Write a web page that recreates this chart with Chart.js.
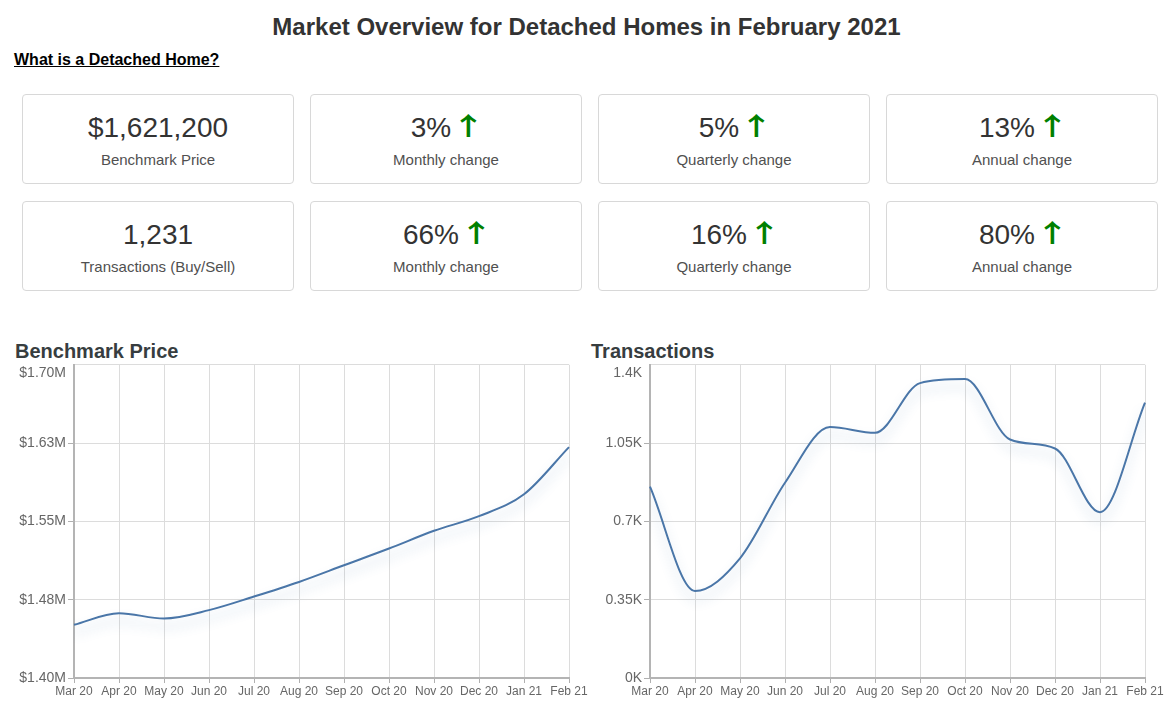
<!DOCTYPE html>
<html>
<head>
<meta charset="utf-8">
<script src="https://cdn.jsdelivr.net/npm/chart.js@4.4.1/dist/chart.umd.min.js"></script>
<style>
  html, body { margin:0; padding:0; background:#fff; }
  body { width:1173px; height:721px; position:relative; overflow:hidden; font-family:"Liberation Sans", Arial, sans-serif; }
  .title { position:absolute; left:0; width:1173px; top:12px; text-align:center; font-size:24px; font-weight:bold; color:#333; line-height:30px; }
  .link { position:absolute; left:14px; top:50px; font-size:16px; font-weight:bold; color:#000; text-decoration:underline; line-height:20px; }
  .card { position:absolute; box-sizing:border-box; width:272px; height:90px; border:1px solid #d8d8d8; border-radius:4px; text-align:center; }
  .card .num { position:absolute; left:0; right:0; top:17px; font-size:28px; line-height:32px; color:#333; white-space:nowrap; }
  .card .num .arr { display:inline-block; line-height:0; font-family:"Noto Sans CJK SC", "DejaVu Sans", sans-serif; color:#008000; font-size:25px; font-weight:bold; margin-left:5px; transform:scaleX(1.35); position:relative; top:-2px; }
  .card .lbl { position:absolute; left:0; right:0; top:56px; font-size:15px; line-height:18px; color:#505050; }
  .ctitle { position:absolute; top:338px; font-size:20px; font-weight:bold; color:#373d3f; line-height:26px; }
  .cwrap { position:absolute; top:346px; height:362px; }
</style>
</head>
<body>
<div class="title">Market Overview for Detached Homes in February 2021</div>
<div class="link">What is a Detached Home?</div>
<div id="cards"></div>
<div class="ctitle" style="left:15px;">Benchmark Price</div>
<div class="ctitle" style="left:591px;">Transactions</div>
<div class="cwrap" style="left:0px; width:590px;"><canvas id="priceChart"></canvas></div>
<div class="cwrap" style="left:580px; width:586px;"><canvas id="txChart"></canvas></div>
<script>
// ---- data ----
const months = ['Mar 20','Apr 20','May 20','Jun 20','Jul 20','Aug 20','Sep 20','Oct 20','Nov 20','Dec 20','Jan 21','Feb 21'];
const benchmarkPrice = [1451000, 1462000, 1457000, 1465000, 1478000, 1492000, 1508000, 1524000, 1541000, 1555000, 1576000, 1621200];
const transactions = [855, 389, 535, 873, 1122, 1096, 1318, 1336, 1066, 1026, 741, 1231];

const priceTicks = [1400000, 1475000, 1550000, 1625000, 1700000];
const priceTickLabels = ['$1.40M', '$1.48M', '$1.55M', '$1.63M', '$1.70M'];
const txTicks = [0, 350, 700, 1050, 1400];
const txTickLabels = ['0K', '0.35K', '0.7K', '1.05K', '1.4K'];

const cardValues = ['$1,621,200', '3%', '5%', '13%', '1,231', '66%', '16%', '80%'];
const cardLabels = ['Benchmark Price', 'Monthly change', 'Quarterly change', 'Annual change',
                    'Transactions (Buy/Sell)', 'Monthly change', 'Quarterly change', 'Annual change'];
const cardUp = [false, true, true, true, false, true, true, true];

// ---- cards ----
const cardsEl = document.getElementById('cards');
const colX = [22, 310, 598, 886];
const rowY = [94, 201];
cardValues.forEach((v, i) => {
  const d = document.createElement('div');
  d.className = 'card';
  d.style.left = colX[i % 4] + 'px';
  d.style.top = rowY[Math.floor(i / 4)] + 'px';
  const n = document.createElement('div');
  n.className = 'num';
  n.textContent = v;
  if (cardUp[i]) {
    const a = document.createElement('span');
    a.className = 'arr';
    a.textContent = '↑';
    n.appendChild(a);
  }
  const l = document.createElement('div');
  l.className = 'lbl';
  l.textContent = cardLabels[i];
  d.appendChild(n); d.appendChild(l);
  cardsEl.appendChild(d);
});

// ---- charts ----
Chart.defaults.font.family = '"Liberation Sans", Arial, sans-serif';
Chart.defaults.color = '#666';

const shadowPlugin = {
  id: 'lineShadow',
  beforeDatasetDraw(chart) {
    const ctx = chart.ctx;
    ctx.save();
    ctx.shadowColor = 'rgba(70,120,170,0.32)';
    ctx.shadowBlur = 12;
    ctx.shadowOffsetX = 0;
    ctx.shadowOffsetY = 8;
  },
  afterDatasetDraw(chart) {
    chart.ctx.restore();
  }
};

function makeChart(id, data, ticks, tickLabels, yWidth) {
  const last = ticks.length - 1;
  return new Chart(document.getElementById(id), {
    type: 'line',
    data: {
      labels: months,
      datasets: [{
        data: data,
        borderColor: '#4a76a8',
        borderWidth: 2,
        pointRadius: 0,
        pointHoverRadius: 0,
        cubicInterpolationMode: 'monotone',
        fill: false
      }]
    },
    options: {
      responsive: true,
      maintainAspectRatio: false,
      animation: false,
      layout: { padding: { top: 10, right: 21, left: 0, bottom: 0 } },
      plugins: { legend: { display: false }, tooltip: { enabled: false }, title: { display: false } },
      scales: {
        x: {
          grid: { color: '#dcdcdc', tickColor: '#b0b0b0', tickLength: 5, lineWidth: 1 },
          border: { color: '#b4b4b4', width: 2 },
          ticks: { font: { size: 12 }, color: '#666', padding: 1, maxRotation: 0, autoSkip: false },
          afterFit: s => { s.height = 30; }
        },
        y: {
          min: ticks[0],
          max: ticks[last],
          afterBuildTicks: s => { s.ticks = ticks.map(v => ({ value: v })); },
          grid: {
            color: '#dcdcdc',
            tickColor: c => (c.index === last ? 'rgba(0,0,0,0)' : '#b0b0b0'),
            tickLength: 6,
            lineWidth: 1
          },
          border: { color: '#b4b4b4', width: 2 },
          ticks: {
            font: { size: 14 }, color: '#666', padding: 2,
            callback: (v, i) => (i === last ? ['', tickLabels[i]] : tickLabels[i])
          },
          afterFit: s => { s.width = yWidth; }
        }
      }
    },
    plugins: [shadowPlugin]
  });
}

makeChart('priceChart', benchmarkPrice, priceTicks, priceTickLabels, 74);
makeChart('txChart', transactions, txTicks, txTickLabels, 70);
</script>
</body>
</html>
